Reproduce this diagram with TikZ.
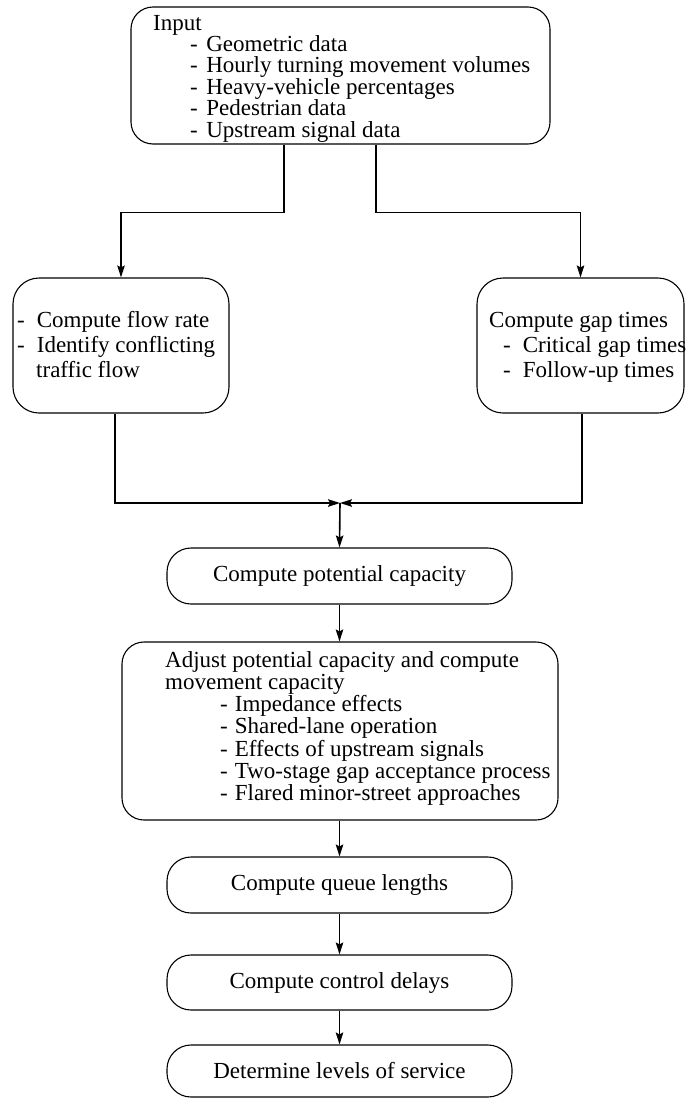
\documentclass[tikz,border=0pt]{standalone}
\usepackage{fontspec}
\setmainfont{Liberation Serif}
\usetikzlibrary{arrows.meta}
\newcommand\itm[1][8.5pt]{-\hspace{#1}}
\begin{document}
\begin{tikzpicture}[x=1pt,y=-1pt,
  box/.style={draw, line width=1.1pt, rounded corners=#1, inner sep=0pt},
  box/.default=24pt,
  txt/.style={inner sep=0pt, font=\fontsize{23}{22}\selectfont, anchor=base west},
  lbl/.style={font=\fontsize{23}{22}\selectfont},
  conn/.style={line width=1.6pt, -{Stealth[length=12pt,width=7.5pt,inset=2pt]}},
  plain/.style={line width=1.6pt}]
\useasboundingbox (0,0) rectangle (687,1098);

% input data box
\node[box=22pt, minimum width=419pt, minimum height=137pt] (in) at (340.5,75.5) {};
\node[txt] (i0) at (153,30) {Input};
\node[txt] (i1) at (190,51.4) {\itm Geometric data};
\node[txt] (i2) at (190,72.8) {\itm Hourly turning movement volumes};
\node[txt] (i3) at (190,94.2) {\itm Heavy-vehicle percentages};
\node[txt] (i4) at (190,115.6) {\itm Pedestrian data};
\node[txt] (i5) at (190,137) {\itm Upstream signal data};

% two parallel steps
\node[box=26pt, minimum width=216pt, minimum height=135pt] (lb) at (121,345.5) {};
\node[txt] (l1) at (17,327) {\itm[12pt]Compute flow rate};
\node[txt] (l2) at (17,352) {\itm[12pt]Identify conflicting};
\node[txt] (l3) at (36,377) {traffic flow};

\node[box=26pt, minimum width=207pt, minimum height=135pt] (rb) at (580.5,345.5) {};
\node[txt] (r1) at (489,327) {Compute gap times};
\node[txt] (r2) at (503,352) {\itm[12pt]Critical gap times};
\node[txt] (r3) at (503,377) {\itm[12pt]Follow-up times};

% main sequence
\node[box, lbl, minimum width=345pt, minimum height=56pt] (cap) at (339.5,576) {Compute potential capacity};

\node[box=22pt, minimum width=436pt, minimum height=178pt] (adj) at (340,731) {};
\node[txt] (a1) at (165,667) {Adjust potential capacity and compute};
\node[txt] (a2) at (165,689.3) {movement capacity};
\node[txt] (a3) at (220,711.6) {\itm[7pt]Impedance effects};
\node[txt] (a4) at (220,733.9) {\itm[7pt]Shared-lane operation};
\node[txt] (a5) at (220,756.2) {\itm[7pt]Effects of upstream signals};
\node[txt] (a6) at (220,778.5) {\itm[7pt]Two-stage gap acceptance process};
\node[txt] (a7) at (220,800.8) {\itm[7pt]Flared minor-street approaches};

\node[box, lbl, minimum width=345pt, minimum height=56pt] (que) at (339.5,885) {Compute queue lengths};
\node[box, lbl, minimum width=345pt, minimum height=55pt] (del) at (339.5,982.5) {Compute control delays};
\node[box, lbl, minimum width=345pt, minimum height=52pt] (los) at (339.5,1071) {Determine levels of service};

% connectors
\coordinate (mid) at (340,503);
\draw[conn] ([xshift=-56.5pt]in.south) |- ([yshift=65pt]lb.north) -- (lb.north);
\draw[conn] ([xshift=35.5pt]in.south) |- ([yshift=65pt]rb.north) -- (rb.north);
\draw[conn] ([xshift=-6pt]lb.south) |- (mid);
\draw[conn] ([xshift=1.5pt]rb.south) |- (mid);
\draw[conn] (mid) -- (cap.north);
\draw[conn] (cap.south) -- (adj.north -| cap.south);
\draw[conn] (adj.south -| que.north) -- (que.north);
\draw[conn] (que.south) -- (del.north);
\draw[conn] (del.south) -- (los.north);
\end{tikzpicture}
\end{document}
